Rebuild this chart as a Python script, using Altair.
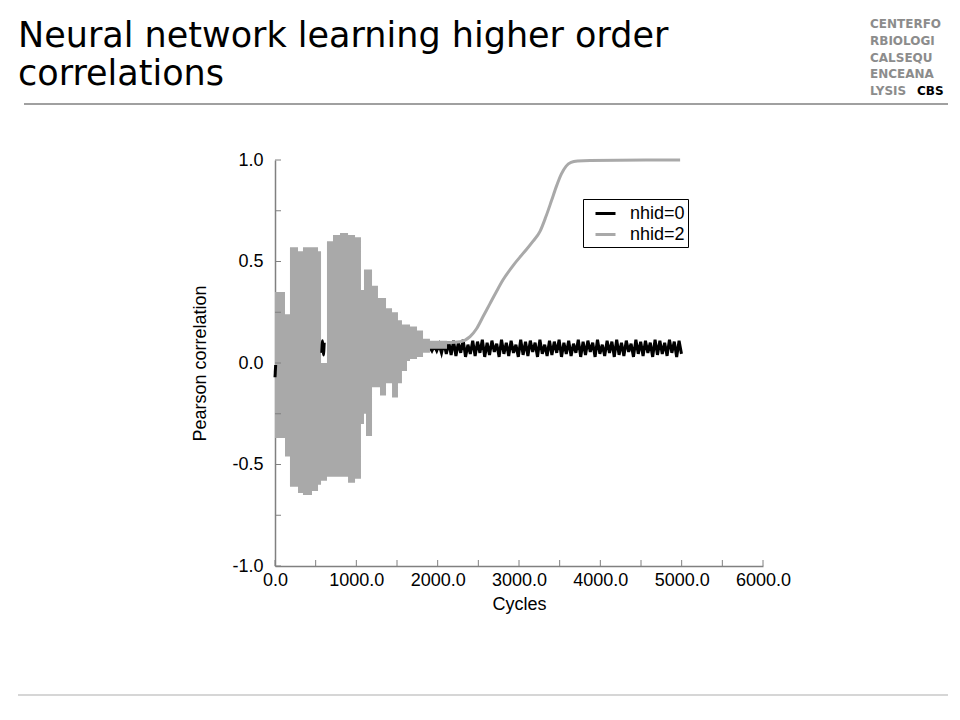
import altair as alt
import pandas as pd

# ---------------- text ----------------
title_lines = ["Neural network learning higher order", "correlations"]
logo_lines = ["CENTERFO", "RBIOLOGI", "CALSEQU", "ENCEANA", "LYSIS"]
logo_mark = "CBS"
series_names = ["nhid=0", "nhid=2"]
series_colors = ["#000000", "#a9a9a9"]
x_title = "Cycles"
y_title = "Pearson correlation"

# ---------------- axes ----------------
x_ticks_major = [0, 1000, 2000, 3000, 4000, 5000, 6000]
x_ticks_minor = [0, 500, 1000, 1500, 2000, 2500, 3000, 3500, 4000, 4500, 5000, 5500, 6000]
y_ticks_major = [-1.0, -0.5, 0.0, 0.5, 1.0]
y_ticks_minor = [-1.0, -0.75, -0.5, -0.25, 0.0, 0.25, 0.5, 0.75, 1.0]

# ---------------- nhid=2 : oscillating envelope ----------------
gray_env_cycles = [0, 123, 184, 283, 344, 455, 529, 566, 639, 713, 799, 898, 984, 1057,
                   1094, 1119, 1193, 1266, 1291, 1365, 1439, 1512, 1561, 1623, 1660, 1746,
                   1820, 1905, 2029, 2115]
gray_env_upper = [0.35, 0.24, 0.57, 0.55, 0.57, 0.57, 0.55, 0.00, 0.60, 0.63, 0.64, 0.63, 0.62, 0.36,
                  0.46, 0.46, 0.38, 0.32, 0.32, 0.27, 0.25, 0.21, 0.19, 0.19, 0.18, 0.16,
                  0.12, 0.11, 0.11, 0.10]
gray_env_lower = [-0.37, -0.46, -0.61, -0.64, -0.65, -0.63, -0.60, -0.58, -0.56, -0.56, -0.56, -0.59, -0.57, -0.30,
                  -0.25, -0.36, -0.12, -0.12, -0.16, -0.10, -0.17, -0.10, -0.04, 0.01, 0.02, 0.03,
                  0.05, 0.07, 0.07, 0.08]

# ---------------- nhid=2 : learning curve ----------------
gray_line_cycles = [2115, 2275, 2398, 2480, 2560, 2640, 2720, 2804, 2927, 3050, 3173, 3260,
                    3330, 3400, 3460, 3520, 3580, 3640, 3720, 3875, 4981]
gray_line_values = [0.10, 0.105, 0.13, 0.17, 0.23, 0.29, 0.35, 0.41, 0.48, 0.54, 0.60, 0.65,
                    0.72, 0.80, 0.87, 0.93, 0.97, 0.988, 0.995, 0.998, 1.0]

# ---------------- nhid=0 : fast oscillation, peaks and troughs every 29.5 cycles ----------------
black_osc_start, black_osc_step = 1900, 29.5
black_osc_values = [
    0.08, 0.06, 0.085, 0.06, 0.09, 0.05, 0.10, 0.045, 0.105, 0.04,
    0.11, 0.035, 0.10, 0.05, 0.115, 0.03, 0.09, 0.045, 0.11, 0.035,
    0.105, 0.05, 0.115, 0.03, 0.10, 0.04, 0.11, 0.055, 0.095, 0.03,
    0.115, 0.045, 0.10, 0.035, 0.11, 0.05, 0.09, 0.03, 0.115, 0.04,
    0.105, 0.035, 0.11, 0.055, 0.10, 0.03, 0.115, 0.045, 0.09, 0.035,
    0.11, 0.04, 0.105, 0.05, 0.115, 0.03, 0.10, 0.045, 0.11, 0.035,
    0.095, 0.05, 0.115, 0.03, 0.105, 0.04, 0.11, 0.055, 0.10, 0.03,
    0.115, 0.045, 0.09, 0.035, 0.11, 0.05, 0.105, 0.03, 0.115, 0.04,
    0.10, 0.035, 0.11, 0.055, 0.095, 0.03, 0.115, 0.045, 0.105, 0.035,
    0.11, 0.05, 0.10, 0.03, 0.115, 0.04, 0.11, 0.045, 0.10, 0.035,
    0.115, 0.05, 0.105, 0.03, 0.11, 0.045,
]
black_blip_cycles = [575, 585, 595, 605]
black_blip_values = [0.05, 0.11, 0.04, 0.10]
black_start_cycles = [0, 8]
black_start_values = [-0.07, -0.01]

# ---------------- layout ----------------
W, H = 488, 406
GRAY = series_colors[1]
AXIS_COLOR = "#808080"
FONT = "Liberation Sans"


def xenc():
    return alt.X("c:Q", scale=alt.Scale(domain=[0, 6000], nice=False, zero=False),
                 axis=alt.Axis(values=x_ticks_major, format=".1f", title=x_title,
                               labelPadding=5, titlePadding=6, labelOverlap=False,
                               labelFlush=False, labelBound=False))


def yenc():
    return alt.Y("v:Q", scale=alt.Scale(domain=[-1, 1], nice=False, zero=False),
                 axis=alt.Axis(values=y_ticks_major,
                               labelExpr="(datum.value < 0 ? '-' : '') + format(abs(datum.value), '.1f')",
                               title=y_title, labelPadding=12, titlePadding=22,
                               labelOverlap=False, labelFlush=False, labelBound=False))


env_df = pd.DataFrame({"c": gray_env_cycles, "v": gray_env_upper, "lo": gray_env_lower})
osc_df = pd.DataFrame({"c": [black_osc_start + i * black_osc_step for i in range(len(black_osc_values))],
                       "v": black_osc_values})

line_rows = []
for c, v in zip(black_start_cycles, black_start_values):
    line_rows.append({"c": c, "v": v, "s": series_names[0], "seg": "a"})
for c, v in zip(black_blip_cycles, black_blip_values):
    line_rows.append({"c": c, "v": v, "s": series_names[0], "seg": "b"})
for c, v in zip(gray_line_cycles, gray_line_values):
    line_rows.append({"c": c, "v": v, "s": series_names[1], "seg": "c"})
line_df = pd.DataFrame(line_rows)

osc = alt.Chart(osc_df).mark_line(color="#000000", strokeWidth=3).encode(
    x=xenc(), y=yenc())

env = alt.Chart(env_df).mark_area(color=GRAY, interpolate="step-after").encode(
    x=xenc(), y=yenc(), y2=alt.Y2("lo:Q"))

lines = alt.Chart(line_df).mark_line(strokeWidth=3, interpolate="monotone").encode(
    x=xenc(), y=yenc(), detail="seg:N",
    color=alt.Color("s:N", scale=alt.Scale(domain=series_names, range=series_colors),
                    legend=alt.Legend(title=None, orient="none", legendX=308, legendY=39,
                                      symbolType="stroke", symbolStrokeWidth=3, symbolSize=400,
                                      symbolOffset=8, strokeColor="#000000", padding=3,
                                      labelFont=FONT, labelFontSize=18, labelOffset=13,
                                      rowPadding=0)))

yt_df = pd.DataFrame({"v": y_ticks_minor})
xt_df = pd.DataFrame({"c": x_ticks_minor})
yticks = alt.Chart(yt_df).mark_rule(color=AXIS_COLOR, strokeWidth=1).encode(
    y=yenc(), x=alt.value(0), x2=alt.value(6))
xticks = alt.Chart(xt_df).mark_rule(color=AXIS_COLOR, strokeWidth=1).encode(
    x=xenc(), y=alt.value(H), y2=alt.value(H - 6))

one = pd.DataFrame({"a": [0]})
deco = []
# page coords -> plot coords: x - 275, y - 160
title_baselines = [47, 85]
for t, yb in zip(title_lines, title_baselines):
    deco.append(alt.Chart(one).mark_text(text=t, font="DejaVu Sans", fontSize=35, align="left",
                                         baseline="alphabetic", color="#000000").encode(
        x=alt.value(18 - 275), y=alt.value(yb - 160)))
logo_baselines = [28, 45, 62, 78, 95]
for t, yb in zip(logo_lines, logo_baselines):
    deco.append(alt.Chart(one).mark_text(text=t, font="DejaVu Sans", fontWeight="bold", fontSize=12,
                                         align="left", baseline="alphabetic", color="#8c8c8c").encode(
        x=alt.value(870 - 275), y=alt.value(yb - 160)))
deco.append(alt.Chart(one).mark_text(text=logo_mark, font="DejaVu Sans", fontWeight="bold", fontSize=12,
                                     align="left", baseline="alphabetic", color="#000000").encode(
    x=alt.value(917 - 275), y=alt.value(95 - 160)))
deco.append(alt.Chart(one).mark_rule(color="#a0a0a0", strokeWidth=2).encode(
    x=alt.value(24 - 275), x2=alt.value(952 - 275), y=alt.value(104 - 160)))
deco.append(alt.Chart(one).mark_rule(color="#c8c8c8", strokeWidth=1.5).encode(
    x=alt.value(18 - 275), x2=alt.value(952 - 275), y=alt.value(695 - 160)))

chart = alt.layer(osc, env, lines, yticks, xticks, *deco).properties(
    width=W, height=H,
    background="#ffffff",
    autosize=alt.AutoSizeParams(type="none"),
    padding={"left": 267, "top": 152, "right": 185, "bottom": 140},
).configure_view(stroke=None).configure_axis(
    grid=False, ticks=False, domainColor=AXIS_COLOR, domainWidth=1.5,
    labelFont=FONT, labelFontSize=18, labelColor="#000000",
    titleFont=FONT, titleFontSize=18, titleFontWeight="normal", titleColor="#000000",
)

chart.save("out.html", embed_options={"renderer": "svg", "actions": False})
